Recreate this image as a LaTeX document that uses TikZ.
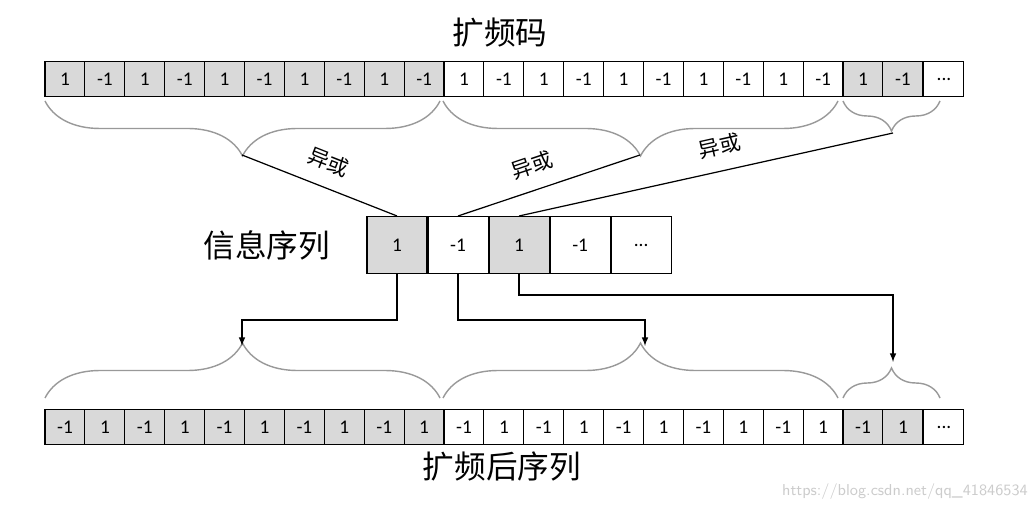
\documentclass[tikz,border=0pt]{standalone}
\usepackage{fontspec}
\setmainfont{Carlito}
\newfontfamily\cjk{Noto Sans CJK SC}
\usetikzlibrary{positioning,calc,decorations.pathreplacing}
\definecolor{cellgray}{HTML}{D9D9D9}
\tikzset{
  cell/.style={draw,line width=0.6pt,minimum width=0.8cm,minimum height=0.7cm,inner sep=0pt,font=\fontsize{11}{13}\selectfont},
  bigcell/.style={draw,line width=0.6pt,minimum width=1.2cm,minimum height=1.14cm,inner sep=0pt,font=\fontsize{11}{13}\selectfont},
  brc/.style={decorate,decoration={brace,amplitude=#1},draw=gray!80,line width=0.8pt},
  title/.style={font=\cjk\fontsize{18}{20}\selectfont},
  xor/.style={sloped,above=5pt,font=\cjk\fontsize{12}{14}\selectfont},
}
\begin{document}
\begin{tikzpicture}[x=0.02cm,y=-0.02cm,line width=0.7pt]
\useasboundingbox (0,0) rectangle (1034,509);
%\draw[help lines] (0,0) grid[step=50] (1034,509);
% top row
\foreach \i in {1,...,22}{
  \pgfmathsetmacro\v{isodd(\i)?"1":"-1"}
  \ifnum\i>10 \ifnum\i<21 \def\f{white}\else\def\f{cellgray}\fi\else\def\f{cellgray}\fi
  \node[cell,fill=\f] (t\i) at ({45+20+(\i-1)*39.9},79) {\v};
}
\node[cell,right=0pt of t22] (t23) {...};
% bottom row
\foreach \i in {1,...,22}{
  \pgfmathsetmacro\v{isodd(\i)?"-1":"1"}
  \ifnum\i>10 \ifnum\i<21 \def\f{white}\else\def\f{cellgray}\fi\else\def\f{cellgray}\fi
  \node[cell,fill=\f] (b\i) at ({45+20+(\i-1)*39.9},427) {\v};
}
\node[cell,right=0pt of b22] (b23) {...};
% message
\node[bigcell,fill=cellgray] (m1) at (397,245) {1};
\node[bigcell,right=0pt of m1] (m2) {-1};
\node[bigcell,fill=cellgray,right=0pt of m2] (m3) {1};
\node[bigcell,right=0pt of m3] (m4) {-1};
\node[bigcell,right=0pt of m4] (m5) {...};
% titles
\node[title] (code) at (500,33) {扩频码};
\node[title,left=17pt of m1] (info) {信息序列};
\node[title] (out) at (502,466) {扩频后序列};
\node[font=\sffamily\small,text=gray!40] (wm) at (905,492) {https://blog.csdn.net/qq\_41846534};
% braces under code
\draw[brc=1.1cm] (440,101) -- (45,101);
\draw[brc=1.1cm] (838,101) -- (443,101);
\draw[brc=0.6cm] (940,101) -- (843,101);
\coordinate (k1) at (242,155);
\coordinate (k2) at (640,155);
\coordinate (k3) at (893,133);
\draw (k1) -- node[xor] {异或} (m1.north);
\draw (k2) -- node[xor,pos=0.55] {异或} (m2.north);
\draw (k3) -- node[xor,pos=0.45] {异或} (m3.north);
% braces over result
\draw[brc=1.1cm] (45,398) -- (440,398);
\draw[brc=1.1cm] (443,398) -- (838,398);
\draw[brc=0.6cm] (843,398) -- (940,398);
% arrows
\draw[-latex] (m1.south) -- (m1.south|-0,320) -| (242,346);
\draw[-latex] (m2.south) -- (m2.south|-0,320) -| (645,346);
\draw[-latex] (m3.south) -- (m3.south|-0,295) -| (893,362);
\end{tikzpicture}
\end{document}
